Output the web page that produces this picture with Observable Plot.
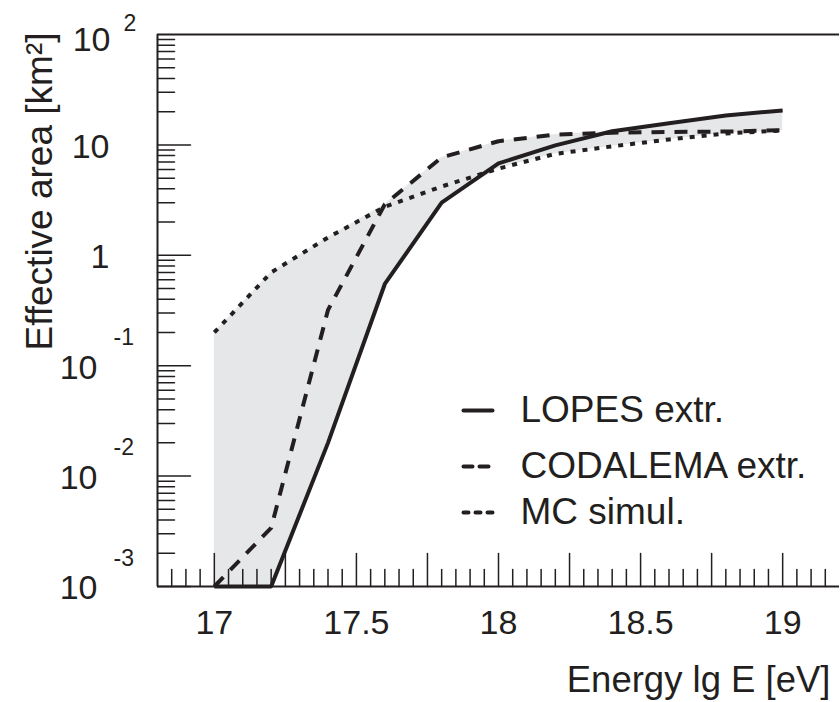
<!DOCTYPE html>
<html><head><meta charset="utf-8">
<script src="https://cdn.jsdelivr.net/npm/d3@7"></script>
<script src="https://cdn.jsdelivr.net/npm/@observablehq/plot@0.6"></script>
<style>
body{margin:0;background:#fff}
#chart{width:840px;height:702px}
</style>
</head><body><div id="chart"></div>
<script>
// ---- data ----
const energy   = [17, 17.2, 17.4, 17.6, 17.8, 18, 18.2, 18.4, 18.6, 18.8, 19];
const lopes    = [0.001, 0.001, 0.02, 0.55, 3.0, 6.8, 9.9, 13.3, 15.7, 18.5, 20.5];
const codalema = [0.001, 0.0034, 0.32, 2.9, 7.7, 10.8, 12.4, 12.9, 13.1, 13.2, 13.6];
const mcSimul  = [0.2, 0.70, 1.45, 2.75, 4.2, 6.1, 8.3, 9.7, 11.2, 12.7, 13.5];
const seriesNames = ["LOPES extr.", "CODALEMA extr.", "MC simul."];
const xDomain = [16.8, 19.2];
const yDomain = [1e-3, 1e2];
const xLabelTicks = [17, 17.5, 18, 18.5, 19];
const yLabelTicks = [1e-3, 1e-2, 1e-1, 1, 10, 100];
const yLabelBase  = ["10", "10", "10", "1", "10", "10"];
const yLabelExp   = ["-3", "-2", "-1", "", "", "2"];
const xTitle = "Energy lg E [eV]";
const yTitle = "Effective area [km²]";

// ---- derived tables ----
const ink = "#231f20";
const seriesValues = [lopes, codalema, mcSimul];
const dashes = [null, "13,10", "5,7"];
const legendDashes = [null, "9,7", "5,7"];
const band = energy.map((e, i) => ({
  e, lo: d3.min(seriesValues, s => s[i]), hi: d3.max(seriesValues, s => s[i])
}));
const xMinor = d3.range(337, 384).filter(i => i % 5 !== 0).map(i => i / 20);
const xMajor = d3.range(337, 384).filter(i => i % 5 === 0).map(i => i / 20);
const yMajor = yLabelTicks.slice(0, -1);
const yMinor = [];
for (let d = -3; d < 2; d++) for (let k = 2; k <= 9; k++) yMinor.push(k * Math.pow(10, d));
const yLabels = yLabelTicks.map((v, i) => ({v, base: yLabelBase[i], exp: yLabelExp[i]}));

const tickUp = {draw(ctx, l) { ctx.moveTo(0, 0); ctx.lineTo(0, -l); }};
const tickRight = {draw(ctx, l) { ctx.moveTo(0, 0); ctx.lineTo(l, 0); }};

const font = "'Liberation Sans', Arial, Helvetica, sans-serif";
const legendY = [376, 432, 478];

const marks = [
  Plot.areaY(band, {x: "e", y1: "lo", y2: "hi", fill: "#e6e7e8"}),
  ...seriesValues.map((s, k) => Plot.line(energy.map((e, i) => ({e, v: s[i]})), {
    x: "e", y: "v", stroke: ink, strokeWidth: 4, strokeDasharray: dashes[k],
    strokeLinejoin: "miter", strokeLinecap: "butt"
  })),
  // frame
  Plot.ruleY([yDomain[1]], {stroke: ink, strokeWidth: 2}),
  Plot.ruleY([yDomain[0]], {stroke: ink, strokeWidth: 2}),
  Plot.ruleX([xDomain[0]], {stroke: ink, strokeWidth: 2}),
  // inward ticks
  Plot.vector(xMajor, {x: d => d, frameAnchor: "bottom", length: 33, rotate: 0, anchor: "start", shape: tickUp, stroke: ink, strokeWidth: 1.5}),
  Plot.vector(xMinor, {x: d => d, frameAnchor: "bottom", length: 17, rotate: 0, anchor: "start", shape: tickUp, stroke: ink, strokeWidth: 1.5}),
  Plot.vector(yMajor, {y: d => d, frameAnchor: "left", length: 33, rotate: 0, anchor: "start", shape: tickRight, stroke: ink, strokeWidth: 1.5}),
  Plot.vector(yMinor, {y: d => d, frameAnchor: "left", length: 17, rotate: 0, anchor: "start", shape: tickRight, stroke: ink, strokeWidth: 1.5}),
  // x tick labels
  Plot.text(xLabelTicks, {x: d => d, frameAnchor: "bottom", text: d => String(d), dy: 37, lineAnchor: "middle", fontSize: 34, fill: ink}),
  // y tick labels
  Plot.text(yLabels.filter(d => d.exp.startsWith("-")), {y: "v", frameAnchor: "left", text: "base", textAnchor: "end", dx: -60, dy: 2, lineAnchor: "middle", fontSize: 34, fill: ink}),
  Plot.text(yLabels.filter(d => d.exp.startsWith("-")), {y: "v", frameAnchor: "left", text: "exp", textAnchor: "start", dx: -44, dy: -28, lineAnchor: "middle", fontSize: 23, fill: ink}),
  Plot.text(yLabels.filter(d => d.exp === ""), {y: "v", frameAnchor: "left", text: "base", textAnchor: "end", dx: -48, dy: 2, lineAnchor: "middle", fontSize: 34, fill: ink}),
  Plot.text(yLabels.filter(d => d.exp !== "" && !d.exp.startsWith("-")), {y: "v", frameAnchor: "left", text: "base", textAnchor: "end", dx: -47, dy: 6, lineAnchor: "middle", fontSize: 34, fill: ink}),
  Plot.text(yLabels.filter(d => d.exp !== "" && !d.exp.startsWith("-")), {y: "v", frameAnchor: "left", text: "exp", textAnchor: "start", dx: -34, dy: -11, lineAnchor: "middle", fontSize: 23, fill: ink}),
  // axis titles
  Plot.text([xTitle], {frameAnchor: "bottom-right", text: d => d, textAnchor: "end", dx: -9, dy: 94, lineAnchor: "middle", fontSize: 36.5, fill: ink}),
  Plot.text([yTitle], {frameAnchor: "top-left", text: d => d, rotate: -90, textAnchor: "end", dx: -117, dy: -2, lineAnchor: "middle", fontSize: 37, fill: ink}),
  // legend
  ...seriesNames.map((name, k) => Plot.vector([name], {frameAnchor: "top-left", dx: 306, dy: legendY[k], length: 29, rotate: 0, anchor: "start", shape: tickRight, stroke: ink, strokeWidth: 4, strokeDasharray: legendDashes[k]})),
  ...seriesNames.map((name, k) => Plot.text([name], {frameAnchor: "top-left", text: d => d, dx: 363, dy: legendY[k], textAnchor: "start", lineAnchor: "middle", fontSize: 37, fill: ink}))
];

const chart = Plot.plot({
  width: 840, height: 702,
  marginLeft: 157, marginRight: 1, marginTop: 34, marginBottom: 116,
  style: {fontFamily: font, background: "#fff", overflow: "visible"},
  x: {domain: xDomain, axis: null},
  y: {type: "log", domain: yDomain, axis: null},
  marks
});
document.getElementById("chart").appendChild(chart);
</script>
</body></html>
